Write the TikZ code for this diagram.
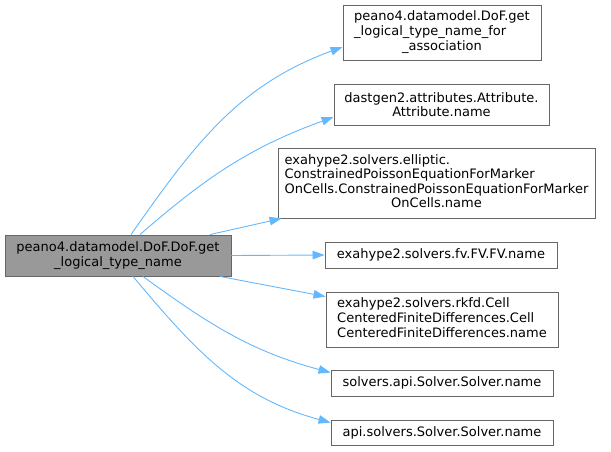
\documentclass[tikz,border=0pt]{standalone}
\usepackage{fontspec}
\setmainfont{DejaVu Sans}
\usetikzlibrary{arrows.meta}
\definecolor{edgeblue}{HTML}{63B8FF}
\definecolor{boxgray}{HTML}{666666}
\definecolor{mainfill}{HTML}{999999}
\begin{document}
\begin{tikzpicture}[x=1pt, y=-1pt, line width=0.9pt,
  every node/.append style={font=\fontsize{13}{14.6}\selectfont, inner sep=0pt, align=center},
  fn/.style={draw=boxgray, fill=white},
  call/.style={draw=edgeblue, -{Triangle[length=12pt,width=8.5pt]}}]
  \useasboundingbox (0,0) rectangle (611,451);
  % caller
  \node[fn, fill=mainfill, minimum width=226pt, minimum height=41pt] (main) at (118,255.5) {peano4.datamodel.DoF.DoF.get\\\_logical\_type\_name};
  % callees
  \node[fn, minimum width=198pt, minimum height=55pt] (forassoc) at (442,32.5) {\begin{tabular}{@{}l@{}}peano4.datamodel.DoF.get\\\_logical\_type\_name\_for\\\multicolumn{1}{@{}c@{}}{\_association}\end{tabular}};
  \node[fn, minimum width=215pt, minimum height=41pt] (attrname) at (441.5,104.5) {dastgen2.attributes.Attribute.\\Attribute.name};
  \node[fn, minimum width=317pt, minimum height=70pt] (poisson) at (436.5,183) {\begin{tabular}{@{}l@{}}exahype2.solvers.elliptic.\\ConstrainedPoissonEquationForMarker\\OnCells.ConstrainedPoissonEquationForMarker\\\multicolumn{1}{@{}c@{}}{OnCells.name}\end{tabular}};
  \node[fn, minimum width=232pt, minimum height=26pt] (fvname) at (441,255) {exahype2.solvers.fv.FV.FV.name};
  \node[fn, minimum width=232pt, minimum height=55pt] (rkfd) at (442,319.5) {\begin{tabular}{@{}l@{}}exahype2.solvers.rkfd.Cell\\CenteredFiniteDifferences.Cell\\CenteredFiniteDifferences.name\end{tabular}};
  \node[fn, minimum width=222pt, minimum height=26pt] (apisolver) at (442,383) {solvers.api.Solver.Solver.name};
  \node[fn, minimum width=222pt, minimum height=25pt] (solversapi) at (442,432.5) {api.solvers.Solver.Solver.name};
  % calls
  \draw[call] ([xshift=13pt]main.north) to[out=55, in=200] ([yshift=-14.5pt]forassoc.west);
  \draw[call] ([xshift=22pt]main.north) to[out=41, in=200] ([yshift=-12.5pt]attrname.west);
  \draw[call] ([xshift=92pt]main.north) -- ([xshift=4pt]poisson.south west);
  \draw[call] (main.east) -- (fvname.west);
  \draw[call] ([xshift=102pt]main.south) -- ([yshift=-5pt]rkfd.north west);
  \draw[call] ([xshift=25pt]main.south) to[out=-36, in=165] ([yshift=-3pt]apisolver.north west);
  \draw[call] ([xshift=15pt]main.south) to[out=-50, in=165] ([yshift=-3pt]solversapi.north west);
\end{tikzpicture}
\end{document}
